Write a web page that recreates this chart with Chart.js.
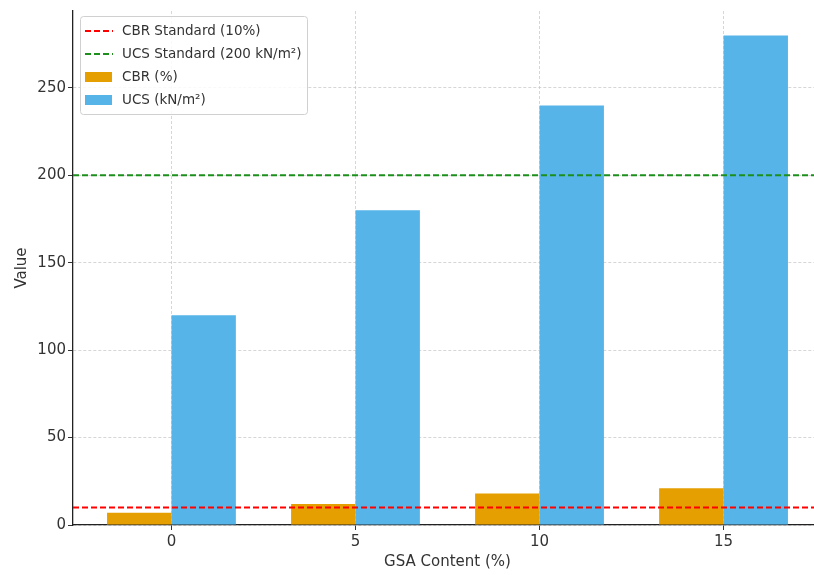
<!DOCTYPE html>
<html>
<head>
<meta charset="utf-8">
<script src="https://cdn.jsdelivr.net/npm/chart.js@4.4.0/dist/chart.umd.min.js"></script>
<style>
  html, body { margin: 0; padding: 0; background: #fff; overflow: hidden; }
  canvas { display: block; }
</style>
</head>
<body>
<canvas id="chart" width="830" height="575"></canvas>
<script>
// data
const gsaContent = [0, 5, 10, 15];
const cbrValues = [7, 12, 18, 21];
const ucsValues = [120, 180, 240, 280];
const cbrStandard = 10;
const ucsStandard = 200;
const xTicks = [0, 5, 10, 15];

const X_MIN = -2.675;
const X_MAX = 17.675;
const Y_MAX = 294;

const FONT = 'DejaVu Sans';
const TEXT = '#333333';

const points = (xs, ys) => xs.map((x, i) => ({ x, y: ys[i] }));
const hline = (y) => [{ x: X_MIN, y }, { x: X_MAX, y }];

// legend in the top-left corner of the plot, matplotlib style
const boxLegend = {
  id: 'boxLegend',
  afterDatasetsDraw(chart) {
    const { ctx } = chart;
    const x0 = 80, y0 = 16, w = 227, h = 98;
    ctx.save();
    ctx.beginPath();
    ctx.roundRect(x0 + 0.5, y0 + 0.5, w, h, 3);
    ctx.fillStyle = 'rgba(255,255,255,0.85)';
    ctx.fill();
    ctx.strokeStyle = '#d0d0d0';
    ctx.lineWidth = 1;
    ctx.stroke();

    ctx.font = `13.5px "${FONT}"`;
    ctx.textBaseline = 'middle';
    chart.data.datasets.forEach((ds, i) => {
      const cy = 31 + i * 23;
      if (ds.type === 'line') {
        ctx.beginPath();
        ctx.setLineDash(ds.borderDash);
        ctx.strokeStyle = ds.borderColor;
        ctx.lineWidth = ds.borderWidth;
        ctx.moveTo(85, cy);
        ctx.lineTo(113, cy);
        ctx.stroke();
        ctx.setLineDash([]);
      } else {
        ctx.fillStyle = ds.backgroundColor;
        ctx.fillRect(85, cy - 5, 27, 10);
      }
      ctx.fillStyle = TEXT;
      ctx.fillText(ds.label, 122, cy);
    });
    ctx.restore();
  }
};

new Chart(document.getElementById('chart'), {
  data: {
    datasets: [
      {
        type: 'line',
        label: 'CBR Standard (10%)',
        data: hline(cbrStandard),
        borderColor: '#ff0000',
        borderWidth: 2,
        borderDash: [6, 3],
        pointRadius: 0,
        fill: false
      },
      {
        type: 'line',
        label: 'UCS Standard (200 kN/m²)',
        data: hline(ucsStandard),
        borderColor: '#1c8f1c',
        borderWidth: 2,
        borderDash: [6, 3],
        pointRadius: 0,
        fill: false
      },
      {
        type: 'bar',
        label: 'CBR (%)',
        data: points(gsaContent, cbrValues),
        backgroundColor: '#E69F00',
        categoryPercentage: 0.7,
        barPercentage: 1.0
      },
      {
        type: 'bar',
        label: 'UCS (kN/m²)',
        data: points(gsaContent, ucsValues),
        backgroundColor: '#56B4E9',
        categoryPercentage: 0.7,
        barPercentage: 1.0
      }
    ]
  },
  options: {
    responsive: false,
    animation: false,
    layout: { padding: { left: 0, right: 8, top: 8, bottom: 0 } },
    plugins: {
      legend: { display: false },
      tooltip: { enabled: false }
    },
    scales: {
      x: {
        type: 'linear',
        min: X_MIN,
        max: X_MAX,
        offset: false,
        afterBuildTicks: (scale) => { scale.ticks = xTicks.map((value) => ({ value })); },
        afterFit: (scale) => { scale.height = 50; },
        ticks: {
          stepSize: 5,
          includeBounds: false,
          padding: 3,
          color: TEXT,
          font: { family: FONT, size: 15 }
        },
        grid: {
          offset: false,
          color: 'rgba(190,190,190,0.8)',
          lineWidth: 0.8,
          tickLength: 5,
          tickColor: '#333',
          tickWidth: 1,
          tickBorderDash: []
        },
        border: { display: true, color: '#222', width: 1.3, dash: [3, 2] },
        title: {
          display: true,
          text: 'GSA Content (%)',
          color: TEXT,
          font: { family: FONT, size: 15 },
          padding: { top: 0, bottom: 4 }
        }
      },
      y: {
        type: 'linear',
        min: 0,
        max: Y_MAX,
        afterFit: (scale) => { scale.width = 73; },
        ticks: {
          stepSize: 50,
          includeBounds: false,
          padding: 2,
          color: TEXT,
          font: { family: FONT, size: 15 }
        },
        grid: {
          color: 'rgba(190,190,190,0.8)',
          lineWidth: 0.8,
          tickLength: 5,
          tickColor: '#333',
          tickWidth: 1,
          tickBorderDash: []
        },
        border: { display: true, color: '#222', width: 1.3, dash: [3, 2] },
        title: {
          display: true,
          text: 'Value',
          color: TEXT,
          font: { family: FONT, size: 15 },
          padding: { top: 13, bottom: 0 }
        }
      }
    }
  },
  plugins: [boxLegend]
});
</script>
</body>
</html>
